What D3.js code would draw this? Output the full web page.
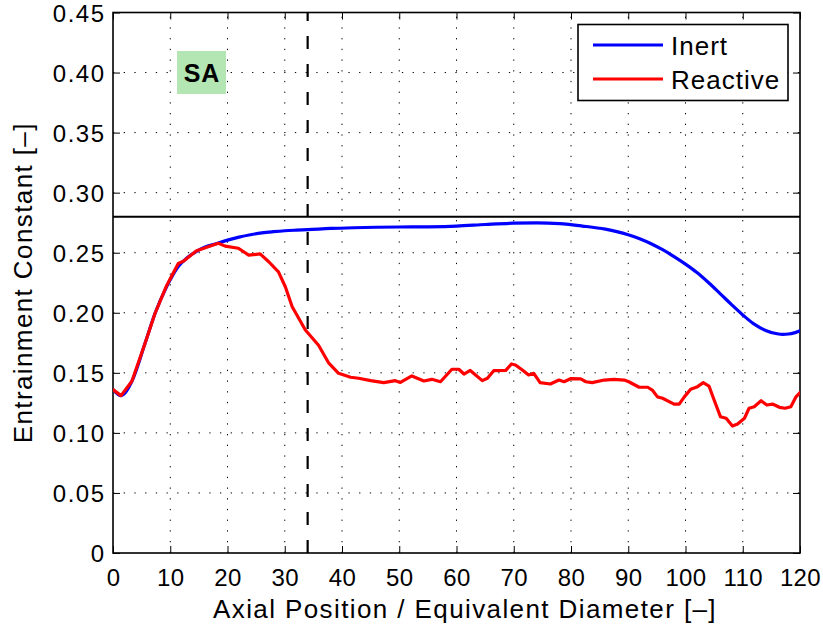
<!DOCTYPE html>
<html>
<head>
<meta charset="utf-8">
<script src="https://cdn.jsdelivr.net/npm/d3@7"></script>
<style>
  html, body { margin: 0; padding: 0; background: #fff; }
  svg { display: block; font-family: "Liberation Sans", Arial, Helvetica, sans-serif; }
</style>
</head>
<body>
<svg id="chart" width="823" height="629"></svg>
<script>
// Axial position (x / D_eq) samples and entrainment constant values
const reactiveX = [0, 1.4, 3.3, 5.6, 7.35, 9.4, 11.4, 12.3, 14.6, 18.4, 19.6, 21.9, 23.7, 25.7, 27.2, 28.9, 30.1, 31.3, 33.6, 35.9, 37.7, 39.4, 41.5, 42.9, 45, 47.3, 49.3, 50.2, 52.2, 54.3, 55.7, 57.2, 59.2, 60.4, 61.3, 62.4, 64.5, 65.4, 66.5, 68.6, 69.6, 70.3, 71.5, 72.6, 73.5, 74.6, 76.4, 77.9, 78.8, 79.9, 81.7, 82.6, 83.7, 85.8, 87.5, 89.3, 90.1, 91.9, 93.4, 94.2, 95.1, 96, 98, 98.9, 99.8, 100.9, 102.1, 103.1, 104.1, 105, 106.1, 107.1, 108.2, 109.1, 110.3, 111.1, 112, 113.2, 114.2, 115.2, 116.4, 117.4, 118.4, 119.3, 120];
const reactiveY = [0.136, 0.131, 0.143, 0.1746, 0.1996, 0.223, 0.241, 0.243, 0.2517, 0.2578, 0.2555, 0.2537, 0.248, 0.249, 0.2425, 0.234, 0.2217, 0.205, 0.1857, 0.173, 0.158, 0.1496, 0.1463, 0.1455, 0.1435, 0.1418, 0.1435, 0.142, 0.1474, 0.1432, 0.1446, 0.1426, 0.153, 0.153, 0.149, 0.152, 0.1435, 0.1455, 0.1518, 0.152, 0.1574, 0.1565, 0.1524, 0.1482, 0.1496, 0.1418, 0.1407, 0.144, 0.1426, 0.1451, 0.1449, 0.1426, 0.1418, 0.144, 0.1446, 0.144, 0.1426, 0.138, 0.138, 0.1357, 0.130, 0.1288, 0.124, 0.124, 0.130, 0.1363, 0.1385, 0.1418, 0.139, 0.1274, 0.1135, 0.1122, 0.1057, 0.1074, 0.1122, 0.1205, 0.1218, 0.1268, 0.1232, 0.124, 0.1213, 0.1205, 0.1218, 0.130, 0.1335];

const inertX = [0, 1.4, 3.3, 5.6, 7.35, 9.4, 11.4, 13, 14.6, 16, 18, 20, 22, 24, 26, 28, 30, 32, 34, 38, 42, 46, 50, 55, 60, 65, 70, 74, 78, 82, 86, 88, 90, 92, 94, 96, 98, 100, 102, 104, 106, 108, 110, 112, 114, 116, 117, 118, 119, 120];
const inertY = [0.136, 0.131, 0.143, 0.1746, 0.1996, 0.222, 0.2385, 0.246, 0.2512, 0.2545, 0.2575, 0.2605, 0.263, 0.265, 0.2665, 0.2675, 0.2683, 0.2688, 0.2692, 0.2702, 0.2708, 0.2712, 0.2714, 0.2716, 0.2722, 0.2735, 0.2746, 0.2749, 0.2742, 0.2722, 0.2696, 0.2676, 0.265, 0.2617, 0.2575, 0.2525, 0.2468, 0.2405, 0.2335, 0.2252, 0.2162, 0.207, 0.1982, 0.1905, 0.1853, 0.1825, 0.182, 0.1823, 0.1833, 0.185];

const xTicks = [0, 10, 20, 30, 40, 50, 60, 70, 80, 90, 100, 110, 120];
const yTicks = [0, 0.05, 0.10, 0.15, 0.20, 0.25, 0.30, 0.35, 0.40, 0.45];

const referenceLevel = 0.28;   // horizontal reference constant
const markerPosition = 34;     // vertical dashed marker

const seriesNames = ["Inert", "Reactive"];
const seriesColors = ["#0000ff", "#ff0000"];
const panelTag = "SA";

const margin = { left: 113, top: 12.5, right: 23, bottom: 76 };
const W = 823, H = 629;
const svg = d3.select("#chart");

const x = d3.scaleLinear().domain([0, 120]).range([margin.left, W - margin.right]);
const y = d3.scaleLinear().domain([0, 0.45]).range([H - margin.bottom, margin.top]);

const x0 = x.range()[0], x1 = x.range()[1];
const yb = y.range()[0], yt = y.range()[1];

// Dotted grid
const grid = svg.append("g").attr("stroke", "#000").attr("stroke-width", 1)
  .attr("stroke-dasharray", "1.3,9.4");
grid.selectAll("line.gx").data(xTicks.slice(1, -1)).join("line")
  .attr("x1", d => x(d)).attr("x2", d => x(d))
  .attr("y1", yb).attr("y2", yt);
grid.selectAll("line.gy").data(yTicks.slice(1, -1)).join("line")
  .attr("x1", x0).attr("x2", x1)
  .attr("y1", d => y(d)).attr("y2", d => y(d));

// Axes (ticks pointing inward, labels via d3 axes)
const fmtY = d3.format(".2f");
const xAxis = d3.axisBottom(x).tickValues(xTicks).tickSizeInner(-7).tickSizeOuter(0)
  .tickPadding(16).tickFormat(d3.format("d"));
const yAxis = d3.axisLeft(y).tickValues(yTicks).tickSizeInner(-7).tickSizeOuter(0)
  .tickPadding(7.5).tickFormat(d => d === 0 ? "0" : fmtY(d));

const gx = svg.append("g").attr("transform", `translate(0,${yb})`).call(xAxis);
const gy = svg.append("g").attr("transform", `translate(${x0},0)`).call(yAxis);
[gx, gy].forEach(g => {
  g.select(".domain").remove();
  g.selectAll("text").attr("font-size", 24).attr("fill", "#000")
    .attr("font-family", "Liberation Sans, Arial, sans-serif");
  g.selectAll(".tick line").attr("stroke", "#000").attr("stroke-width", 1);
});
gy.selectAll("text").attr("dy", "0.36em").attr("letter-spacing", 1.5);
gx.selectAll("text").attr("dy", "0.71em").attr("letter-spacing", 0.4);

// Mirror ticks on top and right edges
const gxTop = svg.append("g").attr("transform", `translate(0,${yt})`)
  .call(d3.axisTop(x).tickValues(xTicks).tickSizeInner(-7).tickSizeOuter(0).tickFormat(""));
const gyRight = svg.append("g").attr("transform", `translate(${x1},0)`)
  .call(d3.axisRight(y).tickValues(yTicks).tickSizeInner(-7).tickSizeOuter(0).tickFormat(""));
[gxTop, gyRight].forEach(g => {
  g.select(".domain").remove();
  g.selectAll(".tick line").attr("stroke", "#000").attr("stroke-width", 1);
});

// Frame
svg.append("rect").attr("x", x0).attr("y", yt).attr("width", x1 - x0).attr("height", yb - yt)
  .attr("fill", "none").attr("stroke", "#000").attr("stroke-width", 1.6);

// Reference level and marker
svg.append("line").attr("x1", x0).attr("x2", x1)
  .attr("y1", y(referenceLevel)).attr("y2", y(referenceLevel))
  .attr("stroke", "#000").attr("stroke-width", 2);
svg.append("line").attr("x1", x(markerPosition)).attr("x2", x(markerPosition))
  .attr("y1", yb).attr("y2", yt)
  .attr("stroke", "#000").attr("stroke-width", 2.2).attr("stroke-dasharray", "13,15");

// Data lines
const inert = inertX.map((d, i) => [d, inertY[i]]);
const reactive = reactiveX.map((d, i) => [d, reactiveY[i]]);

svg.append("clipPath").attr("id", "plot-clip").append("rect")
  .attr("x", x0).attr("y", yt).attr("width", x1 - x0).attr("height", yb - yt);

const lineSmooth = d3.line().x(d => x(d[0])).y(d => y(d[1])).curve(d3.curveMonotoneX);
const lineRaw = d3.line().x(d => x(d[0])).y(d => y(d[1])).curve(d3.curveLinear);

const lines = svg.append("g").attr("clip-path", "url(#plot-clip)")
  .attr("fill", "none").attr("stroke-width", 3.2).attr("stroke-linejoin", "round").attr("stroke-linecap", "round");
lines.append("path").attr("d", lineSmooth(inert)).attr("stroke", seriesColors[0]);
lines.append("path").attr("d", lineRaw(reactive)).attr("stroke", seriesColors[1]);

// Panel tag
svg.append("rect").attr("x", 177).attr("y", 51).attr("width", 49).attr("height", 43)
  .attr("fill", "#b3e6b3");
svg.append("text").attr("x", 202).attr("y", 81.5).attr("text-anchor", "middle")
  .attr("font-size", 25).attr("font-weight", "bold").attr("letter-spacing", 1).attr("fill", "#000").text(panelTag);

// Legend
const legend = svg.append("g");
legend.append("rect").attr("x", 578).attr("y", 24.5).attr("width", 210).attr("height", 76)
  .attr("fill", "#fff").attr("stroke", "#000").attr("stroke-width", 1.6);
seriesNames.forEach((name, i) => {
  const ly = 45 + i * 34;
  legend.append("line").attr("x1", 593).attr("x2", 663).attr("y1", ly).attr("y2", ly)
    .attr("stroke", seriesColors[i]).attr("stroke-width", 3.2);
  legend.append("text").attr("x", 671).attr("y", ly + 10)
    .attr("font-size", 26).attr("letter-spacing", 1).attr("fill", "#000").text(name);
});

// Axis titles
svg.append("text").attr("x", 465).attr("y", 618).attr("text-anchor", "middle")
  .attr("font-size", 26).attr("letter-spacing", 1.4).attr("fill", "#000")
  .text("Axial Position / Equivalent Diameter [–]");
svg.append("text").attr("transform", `translate(32,${(yt + yb) / 2}) rotate(-90)`)
  .attr("text-anchor", "middle").attr("font-size", 26).attr("letter-spacing", 1.4).attr("fill", "#000")
  .text("Entrainment Constant [–]");
</script>
</body>
</html>
